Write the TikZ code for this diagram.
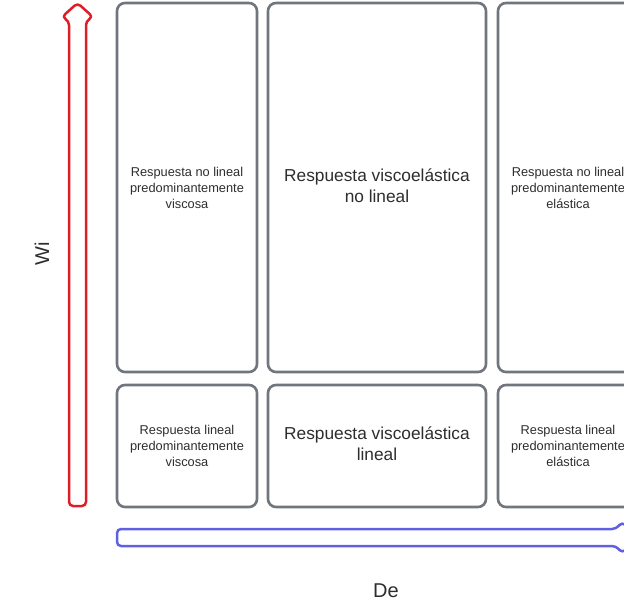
\documentclass[tikz,border=0pt]{standalone}
\usepackage{fontspec}
\setmainfont{Liberation Sans}
\definecolor{boxgray}{RGB}{113,117,125}
\definecolor{txtgray}{RGB}{45,45,45}
\definecolor{wired}{RGB}{222,30,38}
\definecolor{deblue}{RGB}{96,96,228}
\newcommand{\twolines}[3]{\raisebox{#1}{\begin{tabular}{@{}c@{}}#2\\#3\end{tabular}}}
\tikzset{
  cell/.style={draw=boxgray, line width=2.6pt, rounded corners=8pt,
    rectangle, align=center, text=txtgray, inner sep=0pt},
  small/.style={font=\fontsize{12.8}{16}\selectfont},
  large/.style={font=\fontsize{17.3}{21}\selectfont},
  axislabel/.style={text=txtgray, font=\fontsize{20}{23}\selectfont, inner sep=0pt},
  axisarrow/.style={line width=2.5pt, rounded corners=4pt, line join=round}
}
\begin{document}
\begin{tikzpicture}[x=1pt, y=-1pt]
\useasboundingbox (0,0) rectangle (624,604);
\clip (0,0) rectangle (624,604);

% upper row
\node[cell, small, minimum width=140pt, minimum height=369pt] (nlvis) at (187,187.5)
  {Respuesta no lineal\\predominantemente\\viscosa};
\node[cell, large, minimum width=218pt, minimum height=369pt] (nlve) at (377,187.5)
  {\twolines{3pt}{Respuesta viscoelástica}{no lineal}};
\node[cell, small, minimum width=140pt, minimum height=369pt] (nlel) at (568,187.5)
  {Respuesta no lineal\\predominantemente\\elástica};

% lower row
\node[cell, small, minimum width=140pt, minimum height=122pt] (lvis) at (187,446)
  {Respuesta lineal\\predominantemente\\viscosa};
\node[cell, large, minimum width=218pt, minimum height=122pt] (lve) at (377,446)
  {\twolines{1pt}{Respuesta viscoelástica}{lineal}};
\node[cell, small, minimum width=140pt, minimum height=122pt] (lel) at (568,446)
  {Respuesta lineal\\predominantemente\\elástica};

% Wi axis: upward block arrow
\draw[axisarrow, draw=wired]
  (69,506) -- (69,21) -- (62,17) -- (77.5,3) -- (93,17) -- (86,21) -- (86,506) -- cycle;

% De axis: rightward block arrow
\draw[axisarrow, draw=deblue]
  (117,529) -- (616,529) -- (622,522) -- (640,537.5) -- (622,553) -- (616,546) -- (117,546) -- cycle;

% axis labels
\node[axislabel, rotate=90] (wi) at (42,254) {Wi};
\node[axislabel] (de) at (386,591) {De};
\end{tikzpicture}
\end{document}
